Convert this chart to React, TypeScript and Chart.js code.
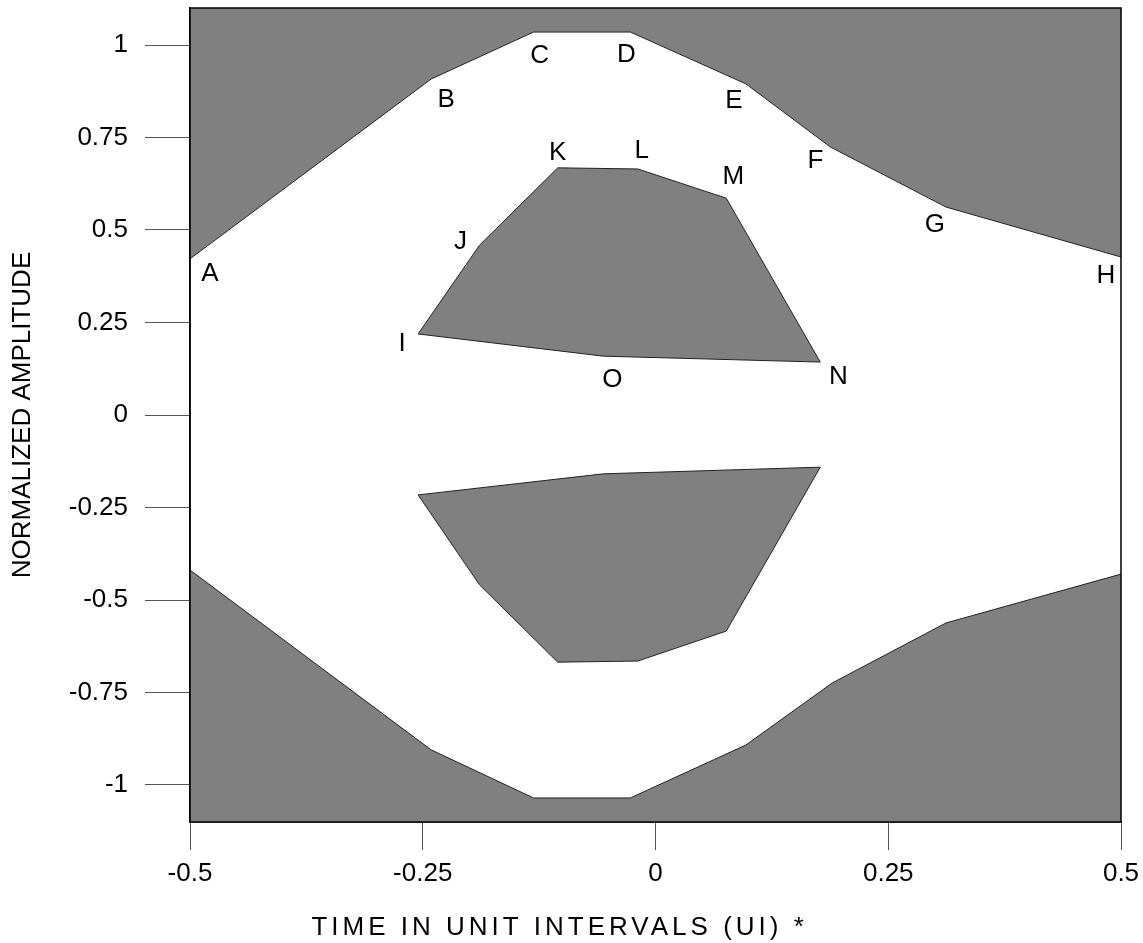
import React, { useEffect, useRef } from "react";
import { Chart, registerables } from "chart.js";

Chart.register(...registerables);

// Upper mask (points A..H)
const upperMaskX = [-0.5, -0.241, -0.131, -0.027, 0.097, 0.188, 0.312, 0.5];
const upperMaskY = [0.422, 0.908, 1.035, 1.035, 0.895, 0.724, 0.562, 0.427];
// Lower mask
const lowerMaskX = [-0.5, -0.241, -0.131, -0.027, 0.097, 0.19, 0.312, 0.5];
const lowerMaskY = [-0.419, -0.905, -1.035, -1.035, -0.892, -0.724, -0.562, -0.43];
// Inner eye polygon (points I..O), upper
const innerUpperX = [-0.255, -0.189, -0.105, -0.019, 0.076, 0.177, -0.056];
const innerUpperY = [0.219, 0.459, 0.668, 0.665, 0.586, 0.143, 0.159];
// Inner eye polygon, lower
const innerLowerX = [-0.255, -0.189, -0.105, -0.019, 0.076, 0.177, -0.056];
const innerLowerY = [-0.216, -0.459, -0.668, -0.665, -0.584, -0.141, -0.159];

const maskLetters = ["A", "B", "C", "D", "E", "F", "G", "H"];
const innerLetters = ["I", "J", "K", "L", "M", "N", "O"];

const xTicks = [-0.5, -0.25, 0, 0.25, 0.5];
const yTicks = [-1, -0.75, -0.5, -0.25, 0, 0.25, 0.5, 0.75, 1];

const xTitle = "TIME IN UNIT INTERVALS (UI) *";
const yTitle = "NORMALIZED AMPLITUDE";

// label pixel offsets (style only)
const maskLabelOffsets = [
  [20, 15], [15, 21], [6, 24], [-4, 23], [-12, 17], [-15, 14], [-11, 18], [-15, 19],
];
const innerLabelOffsets = [
  [-16, 10], [-19, -3], [0, -15], [4, -18], [7, -21], [18, 15], [9, 24],
];

const FONT = "'Liberation Sans', Arial, sans-serif";
const FS = 26;
const GRAY = "#808080";

const pts = (xs: number[], ys: number[]) => xs.map((x, i) => ({ x, y: ys[i] }));
const closed = (xs: number[], ys: number[]) => {
  const p = pts(xs, ys);
  return [...p, p[0]];
};

const labelPlugin = {
  id: "letterLabels",
  afterDatasetsDraw(chart: any) {
    const { ctx, scales } = chart;
    const xs = scales.x;
    const ys = scales.y;
    ctx.save();
    ctx.font = `${FS}px ${FONT}`;
    ctx.fillStyle = "#000";
    ctx.textAlign = "center";
    ctx.textBaseline = "middle";
    maskLetters.forEach((l, i) => {
      const px = xs.getPixelForValue(upperMaskX[i]) + maskLabelOffsets[i][0];
      const py = ys.getPixelForValue(upperMaskY[i]) + maskLabelOffsets[i][1];
      ctx.fillText(l, px, py);
    });
    innerLetters.forEach((l, i) => {
      const px = xs.getPixelForValue(innerUpperX[i]) + innerLabelOffsets[i][0];
      const py = ys.getPixelForValue(innerUpperY[i]) + innerLabelOffsets[i][1];
      ctx.fillText(l, px, py);
    });
    ctx.restore();
  },
};

const framePlugin = {
  id: "frame",
  afterDraw(chart: any) {
    const { ctx, chartArea } = chart;
    ctx.save();
    ctx.strokeStyle = "#000";
    ctx.lineWidth = 1.5;
    ctx.strokeRect(chartArea.left, chartArea.top, chartArea.right - chartArea.left, chartArea.bottom - chartArea.top);
    // x axis title, letter-spaced and offset like the reference
    ctx.font = `${FS}px ${FONT}`;
    ctx.fillStyle = "#000";
    ctx.textAlign = "center";
    ctx.textBaseline = "middle";
    (ctx as any).letterSpacing = "4px";
    ctx.fillText(xTitle, chartArea.left + (chartArea.right - chartArea.left) * 0.397, 928);
    ctx.restore();
  },
};

export default function App() {
  const ref = useRef<HTMLCanvasElement | null>(null);
  useEffect(() => {
    if (!ref.current) return;
    const base = {
      borderColor: "#222",
      borderWidth: 1,
      backgroundColor: GRAY,
      pointRadius: 0,
      tension: 0,
    };
    const chart = new Chart(ref.current, {
      type: "line",
      data: {
        datasets: [
          { ...base, data: pts(upperMaskX, upperMaskY), fill: "end" },
          { ...base, data: pts(lowerMaskX, lowerMaskY), fill: "start" },
          { ...base, data: closed(innerUpperX, innerUpperY), fill: "shape" },
          { ...base, data: closed(innerLowerX, innerLowerY), fill: "shape" },
        ] as any,
      },
      options: {
        animation: false,
        responsive: true,
        maintainAspectRatio: false,
        layout: { padding: { top: 8, right: 22, left: 0, bottom: 0 } },
        plugins: { legend: { display: false }, tooltip: { enabled: false } },
        scales: {
          x: {
            type: "linear",
            min: -0.5,
            max: 0.5,
            afterBuildTicks: (s: any) => {
              s.ticks = xTicks.map((v) => ({ value: v }));
            },
            afterFit: (s: any) => {
              s.height = 121;
              s.paddingLeft = 0;
              s.paddingRight = 0;
            },
            ticks: {
              color: "#000",
              font: { family: FONT, size: FS },
              padding: 8,
              maxRotation: 0,
              callback: (v: any) => String(v),
            },
            grid: { drawOnChartArea: false, drawTicks: true, tickLength: 28, color: "#555" },
            border: { display: true, color: "#000", width: 1.5 },
            title: { display: false, text: xTitle },
          },
          y: {
            type: "linear",
            min: -1.1,
            max: 1.1,
            afterBuildTicks: (s: any) => {
              s.ticks = yTicks.map((v) => ({ value: v }));
            },
            afterFit: (s: any) => {
              s.width = 190;
              s.paddingTop = 0;
              s.paddingBottom = 0;
            },
            ticks: {
              color: "#000",
              font: { family: FONT, size: FS },
              padding: 17,
              callback: (v: any) => String(v),
            },
            grid: { drawOnChartArea: false, drawTicks: true, tickLength: 45, color: "#555" },
            border: { display: true, color: "#000", width: 1.5 },
            title: {
              display: true,
              text: yTitle,
              color: "#000",
              font: { family: FONT, size: FS },
              padding: { top: 7, bottom: 0 },
            },
          },
        },
      } as any,
      plugins: [labelPlugin, framePlugin],
    });
    return () => chart.destroy();
  }, []);
  return (
    <div style={{ position: "fixed", left: 0, top: 0, width: 1143, height: 943, background: "#fff" }}>
      <canvas ref={ref} />
    </div>
  );
}
